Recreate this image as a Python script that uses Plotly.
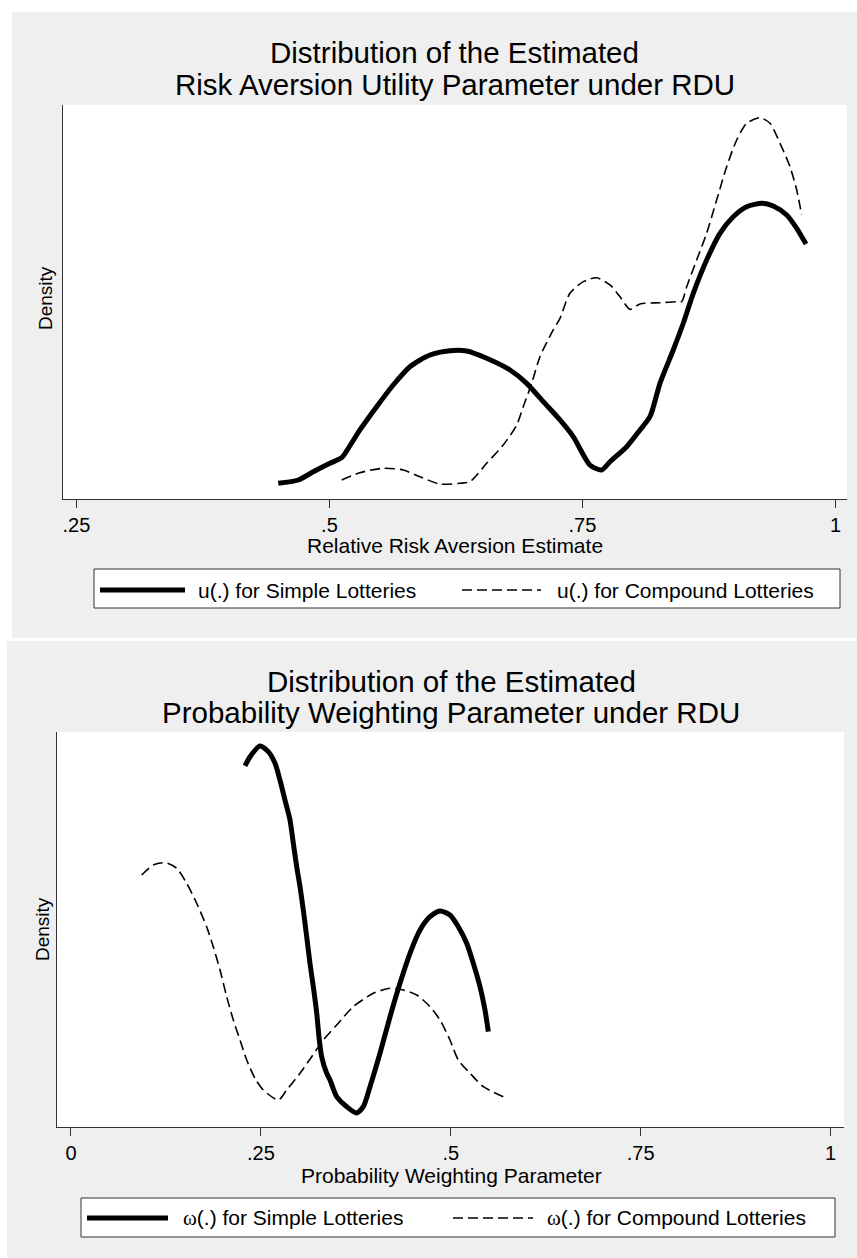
import plotly.graph_objects as go

W, H = 857, 1258

# Kernel density estimates: relative risk aversion (CRRA) parameter under RDU
rra_simple_x = [0.4494, 0.4692, 0.4840, 0.5005, 0.5121, 0.5186, 0.5301, 0.5466, 0.5630, 0.5795,
                0.5993, 0.6191, 0.6356, 0.6553, 0.6784, 0.6949, 0.7113, 0.7278, 0.7409, 0.7574,
                0.7690, 0.7772, 0.7937, 0.8068, 0.8167, 0.8266, 0.8397, 0.8496, 0.8595, 0.8727,
                0.8859, 0.8990, 0.9123, 0.9277, 0.9385, 0.9518, 0.9617, 0.9709]
rra_simple_d = [0.199, 0.241, 0.346, 0.453, 0.524, 0.643, 0.876, 1.171, 1.447, 1.679,
                1.827, 1.882, 1.878, 1.786, 1.637, 1.468, 1.235, 1.003, 0.791, 0.431,
                0.368, 0.473, 0.664, 0.876, 1.044, 1.468, 1.891, 2.230, 2.610, 3.033,
                3.372, 3.582, 3.709, 3.753, 3.718, 3.604, 3.435, 3.236]

rra_compound_x = [0.5121, 0.5301, 0.5532, 0.5729, 0.5894, 0.6092, 0.6290, 0.6388, 0.6553, 0.6717,
                  0.6850, 0.6915, 0.6998, 0.7080, 0.7211, 0.7278, 0.7376, 0.7508, 0.7640, 0.7772,
                  0.7871, 0.7970, 0.8068, 0.8266, 0.8431, 0.8480, 0.8530, 0.8628, 0.8727, 0.8826,
                  0.8925, 0.9024, 0.9123, 0.9254, 0.9353, 0.9452, 0.9551, 0.9617, 0.9666]
rra_compound_d = [0.241, 0.334, 0.390, 0.368, 0.283, 0.190, 0.199, 0.220, 0.453, 0.685,
                  0.939, 1.171, 1.468, 1.806, 2.145, 2.293, 2.610, 2.758, 2.808, 2.716,
                  2.567, 2.407, 2.475, 2.491, 2.504, 2.504, 2.694, 3.033, 3.372, 3.794,
                  4.217, 4.556, 4.768, 4.839, 4.768, 4.514, 4.217, 3.921, 3.604]

# Kernel density estimates: probability weighting parameter under RDU
pw_simple_x = [0.2291, 0.2357, 0.2488, 0.2597, 0.2686, 0.2751, 0.2817, 0.2883, 0.2927, 0.2971,
               0.3015, 0.3058, 0.3103, 0.3146, 0.3190, 0.3235, 0.3269, 0.3300, 0.3366, 0.3410,
               0.3498, 0.3630, 0.3761, 0.3848, 0.3936, 0.4068, 0.4200, 0.4331, 0.4463, 0.4595,
               0.4726, 0.4858, 0.4989, 0.5099, 0.5209, 0.5296, 0.5384, 0.5450, 0.5494]
pw_simple_d = [4.570, 4.687, 4.823, 4.751, 4.604, 4.392, 4.139, 3.886, 3.591, 3.295,
               3.042, 2.747, 2.409, 2.072, 1.776, 1.439, 1.101, 0.890, 0.680, 0.595,
               0.384, 0.257, 0.177, 0.257, 0.510, 0.933, 1.396, 1.819, 2.199, 2.494,
               2.662, 2.734, 2.684, 2.535, 2.325, 2.072, 1.776, 1.481, 1.206]

pw_compound_x = [0.0931, 0.1083, 0.1237, 0.1392, 0.1523, 0.1655, 0.1786, 0.1873, 0.1962, 0.2050,
                 0.2137, 0.2225, 0.2313, 0.2422, 0.2532, 0.2729, 0.2840, 0.3015, 0.3169, 0.3322,
                 0.3498, 0.3716, 0.3980, 0.4200, 0.4375, 0.4551, 0.4726, 0.4858, 0.4989, 0.5099,
                 0.5253, 0.5428, 0.5691]
pw_compound_d = [3.190, 3.316, 3.346, 3.275, 3.085, 2.832, 2.535, 2.282, 1.987, 1.649,
                 1.354, 1.101, 0.848, 0.616, 0.468, 0.342, 0.468, 0.680, 0.890, 1.101,
                 1.291, 1.523, 1.692, 1.756, 1.734, 1.671, 1.523, 1.354, 1.101, 0.848,
                 0.680, 0.510, 0.384]

rra_ticks = [0.25, 0.5, 0.75, 1.0]
rra_tick_labels = [".25", ".5", ".75", "1"]
pw_ticks = [0.0, 0.25, 0.5, 0.75, 1.0]
pw_tick_labels = ["0", ".25", ".5", ".75", "1"]

top_title = ["Distribution of the Estimated", "Risk Aversion Utility Parameter under RDU"]
bottom_title = ["Distribution of the Estimated", "Probability Weighting Parameter under RDU"]
top_xlabel = "Relative Risk Aversion Estimate"
bottom_xlabel = "Probability Weighting Parameter"
ylabel = "Density"
OMEGA = "<span style=\"font-family:'Liberation Serif', 'Times New Roman', serif\">ω</span>"
top_legend = ["u(.) for Simple Lotteries", "u(.) for Compound Lotteries"]
bottom_legend = [OMEGA + "(.) for Simple Lotteries", OMEGA + "(.) for Compound Lotteries"]

FONT = "Liberation Sans, Arial, Helvetica, sans-serif"
PANEL = "#efefef"
AXIS = "#333333"
DASH = "10px,5px"
TITLE_SIZE = 29.5
LABEL_SIZE = 21
TICK_SIZE = 20


def px(x):
    return x / W


def py(y):
    return 1 - y / H


# plot-area rectangles in pixels (left, top, right, bottom)
top_box = (63, 105, 847, 499)
bot_box = (57, 732, 844, 1127)

fig = go.Figure()


def add_curve(x, d, thick, xa, ya):
    line = dict(color="black", width=5, shape="spline", smoothing=0.7) if thick else \
        dict(color="black", width=1.6, dash=DASH, shape="spline", smoothing=0.7)
    fig.add_trace(go.Scatter(x=x, y=d, mode="lines", line=line, xaxis=xa, yaxis=ya,
                             showlegend=False, hoverinfo="skip"))


add_curve(rra_simple_x, rra_simple_d, True, "x", "y")
add_curve(rra_compound_x, rra_compound_d, False, "x", "y")
add_curve(pw_simple_x, pw_simple_d, True, "x2", "y2")
add_curve(pw_compound_x, pw_compound_d, False, "x2", "y2")

xaxis_common = dict(showline=True, linecolor=AXIS, linewidth=1, showgrid=False, zeroline=False,
                    ticks="outside", ticklen=8, tickwidth=1, tickcolor=AXIS,
                    tickfont=dict(family=FONT, size=TICK_SIZE, color="black"), fixedrange=True)
yaxis_common = dict(showline=True, linecolor=AXIS, linewidth=1, showgrid=False, zeroline=False,
                    ticks="", showticklabels=False, range=[0, 5], fixedrange=True)

shapes = [
    # grey graph regions
    dict(type="rect", xref="paper", yref="paper", x0=px(12), x1=px(857), y0=py(638), y1=py(12),
         fillcolor=PANEL, line=dict(width=0), layer="below"),
    dict(type="rect", xref="paper", yref="paper", x0=px(7), x1=px(857), y0=py(1258), y1=py(641),
         fillcolor=PANEL, line=dict(width=0), layer="below"),
]
for (l, t, r, b) in (top_box, bot_box):
    shapes.append(dict(type="rect", xref="paper", yref="paper", x0=px(l), x1=px(r), y0=py(b), y1=py(t),
                       fillcolor="white", line=dict(width=0), layer="below"))

annotations = []


def add_text(text, x, y, size, xanchor="center", angle=0):
    annotations.append(dict(text=text, x=px(x), y=py(y), xref="paper", yref="paper",
                            xanchor=xanchor, yanchor="middle", showarrow=False, textangle=angle,
                            font=dict(family=FONT, size=size, color="black")))


def add_legend(box, solid_seg, dash_seg, yline, labels, text_x):
    l, t, r, b = box
    shapes.append(dict(type="rect", xref="paper", yref="paper", x0=px(l), x1=px(r), y0=py(b), y1=py(t),
                       fillcolor="white", line=dict(color=AXIS, width=1)))
    shapes.append(dict(type="line", xref="paper", yref="paper", x0=px(solid_seg[0]), x1=px(solid_seg[1]),
                       y0=py(yline), y1=py(yline), line=dict(color="black", width=5)))
    shapes.append(dict(type="line", xref="paper", yref="paper", x0=px(dash_seg[0]), x1=px(dash_seg[1]),
                       y0=py(yline), y1=py(yline), line=dict(color="black", width=1.6, dash=DASH)))
    add_text(labels[0], text_x[0], yline, LABEL_SIZE, xanchor="left")
    add_text(labels[1], text_x[1], yline, LABEL_SIZE, xanchor="left")


# top panel texts
add_text(top_title[0], 455, 52.5, TITLE_SIZE)
add_text(top_title[1], 455, 84.5, TITLE_SIZE)
add_text(top_xlabel, 455, 545, LABEL_SIZE)
add_text(ylabel, 46, 298, 19, angle=-90)
add_legend((94, 569, 840, 608), (100, 185), (462, 541), 590, top_legend, (196, 555))

# bottom panel texts
add_text(bottom_title[0], 451, 681, TITLE_SIZE)
add_text(bottom_title[1], 451, 712, TITLE_SIZE)
add_text(bottom_xlabel, 451, 1175, LABEL_SIZE)
add_text(ylabel, 43, 929, 19, angle=-90)
add_legend((81, 1198, 835, 1237), (87, 168), (453, 533), 1218, bottom_legend, (181, 545))

fig.update_layout(
    width=W, height=H,
    margin=dict(l=0, r=0, t=0, b=0),
    paper_bgcolor="white",
    plot_bgcolor="rgba(0,0,0,0)",
    showlegend=False,
    xaxis=dict(xaxis_common, domain=[px(top_box[0]), px(top_box[2])],
               range=[0.2367, 1.0114], tickvals=rra_ticks, ticktext=rra_tick_labels, anchor="y"),
    yaxis=dict(yaxis_common, domain=[py(top_box[3]), py(top_box[1])], anchor="x"),
    xaxis2=dict(xaxis_common, domain=[px(bot_box[0]), px(bot_box[2])],
                range=[-0.0184, 1.0176], tickvals=pw_ticks, ticktext=pw_tick_labels, anchor="y2"),
    yaxis2=dict(yaxis_common, domain=[py(bot_box[3]), py(bot_box[1])], anchor="x2"),
    shapes=shapes,
    annotations=annotations,
)

fig.write_html("out.html")
